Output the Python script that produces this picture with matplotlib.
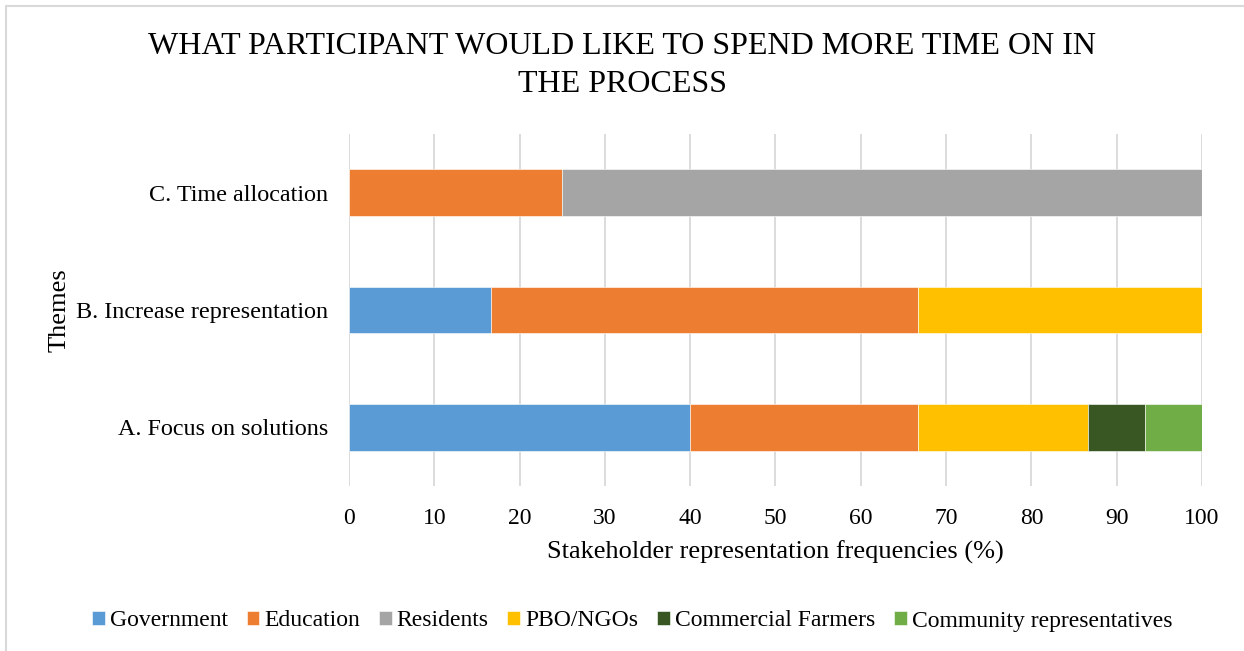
import numpy as np
import matplotlib.pyplot as plt
from matplotlib.patches import Rectangle

plt.rcParams["font.family"] = ["Liberation Serif", "DejaVu Serif"]

themes = ["A. Focus on solutions", "B. Increase representation", "C. Time allocation"]
groups = ["Government", "Education", "Residents", "PBO/NGOs",
          "Commercial Farmers", "Community representatives"]
colors = ["#5B9BD5", "#ED7D31", "#A5A5A5", "#FFC000", "#385723", "#70AD47"]

# share of each stakeholder group per theme (%)
government = [40.0, 16.67, 0.0]
education = [26.67, 50.0, 25.0]
residents = [0.0, 0.0, 75.0]
pbo_ngos = [20.0, 33.33, 0.0]
commercial_farmers = [6.67, 0.0, 0.0]
community_reps = [6.67, 0.0, 0.0]

series = [government, education, residents, pbo_ngos,
          commercial_farmers, community_reps]

fig = plt.figure(figsize=(12.44, 6.51), dpi=100)
ax = fig.add_axes([349 / 1244, 1 - 486 / 651, (1202 - 349) / 1244, (486 - 134) / 651])

y = np.arange(len(themes))
left = np.zeros(len(themes))
for vals, name, col in zip(series, groups, colors):
    ax.barh(y, vals, left=left, height=0.4, color=col, label=name,
            edgecolor="white", linewidth=0.4, zorder=3)
    left += np.array(vals)

ax.set_xlim(0, 100)
ax.set_ylim(-0.5, 2.5)
ax.set_xticks(range(0, 101, 10))
ax.set_yticks(y)
ax.set_yticklabels(themes)
ax.tick_params(axis="x", length=0, labelsize=17, pad=16)
ax.tick_params(axis="y", length=0, labelsize=17.4, pad=15)
ax.grid(axis="x", color="#d9d9d9", linewidth=1.3, zorder=0)
for s in ax.spines.values():
    s.set_visible(False)

ax.set_xlabel("Stakeholder representation frequencies (%)", fontsize=19, labelpad=8)
fig.text(60 / 1244, 1 - 310 / 651, "Themes", rotation=90, fontsize=19,
         ha="center", va="center")

fig.text(0.5, 1 - 47 / 651, "WHAT PARTICIPANT WOULD LIKE TO SPEND MORE TIME ON IN",
         fontsize=23, ha="center", va="center")
fig.text(0.5, 1 - 85 / 651, "THE PROCESS", fontsize=23, ha="center", va="center")

fig.legend(loc="center", bbox_to_anchor=(632 / 1244, 1 - 621 / 651), ncol=6,
           frameon=False, fontsize=17, handlelength=0.55, handleheight=0.55,
           handletextpad=0.2, columnspacing=0.8)

# chart-area frame
fig.patches.append(Rectangle((6 / 1244, -0.02), 1.1, 1 - 6 / 651 + 0.02,
                             transform=fig.transFigure, fill=False,
                             edgecolor="#d9d9d9", linewidth=1.5))

fig.savefig("out.png", dpi=100)
